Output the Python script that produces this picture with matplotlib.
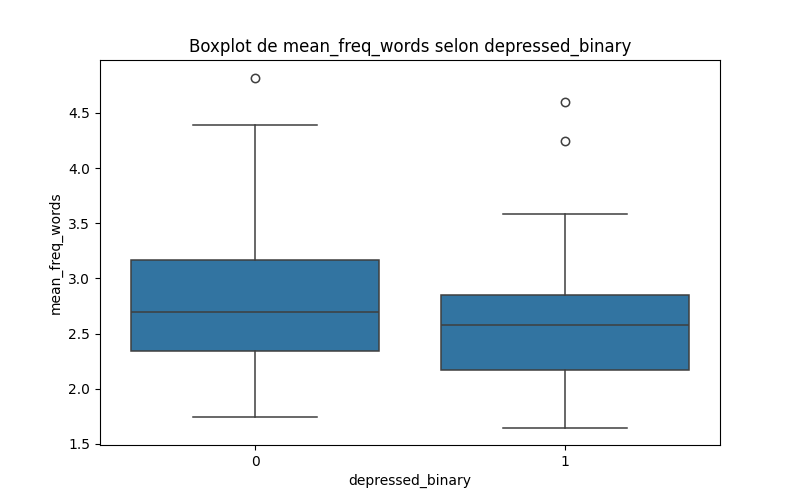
import matplotlib
matplotlib.use('Agg')
import matplotlib.pyplot as plt

# values
categories = ['0', '1']
whislo = [1.74, 1.64]
q1 = [2.34, 2.17]
med = [2.70, 2.58]
q3 = [3.17, 2.85]
whishi = [4.39, 3.58]
fliers = [[4.82], [4.60, 4.25]]

stats = []
for i in range(len(categories)):
  stats.append(dict(label=categories[i], whislo=whislo[i], q1=q1[i], med=med[i],
                    q3=q3[i], whishi=whishi[i], fliers=fliers[i]))

fig, ax = plt.subplots(figsize=(8, 5), dpi=100)
line = dict(color='#3f3f3f', linewidth=1.1)
ax.bxp(stats, positions=[0, 1], widths=0.8, patch_artist=True, showcaps=True,
       boxprops=dict(facecolor='#3274a1', edgecolor='#3f3f3f', linewidth=1.1),
       medianprops=line, whiskerprops=line, capprops=line,
       flierprops=dict(marker='o', markerfacecolor='none', markeredgecolor='#3f3f3f',
                       markersize=6, markeredgewidth=1.1))
ax.set_xlim(-0.5, 1.5)
ax.set_ylim(1.49, 4.98)
ax.set_xticks([0, 1])
ax.set_xticklabels(categories)
ax.set_xlabel('depressed_binary')
ax.set_ylabel('mean_freq_words')
ax.set_title('Boxplot de mean_freq_words selon depressed_binary')
fig.savefig('out.png')
